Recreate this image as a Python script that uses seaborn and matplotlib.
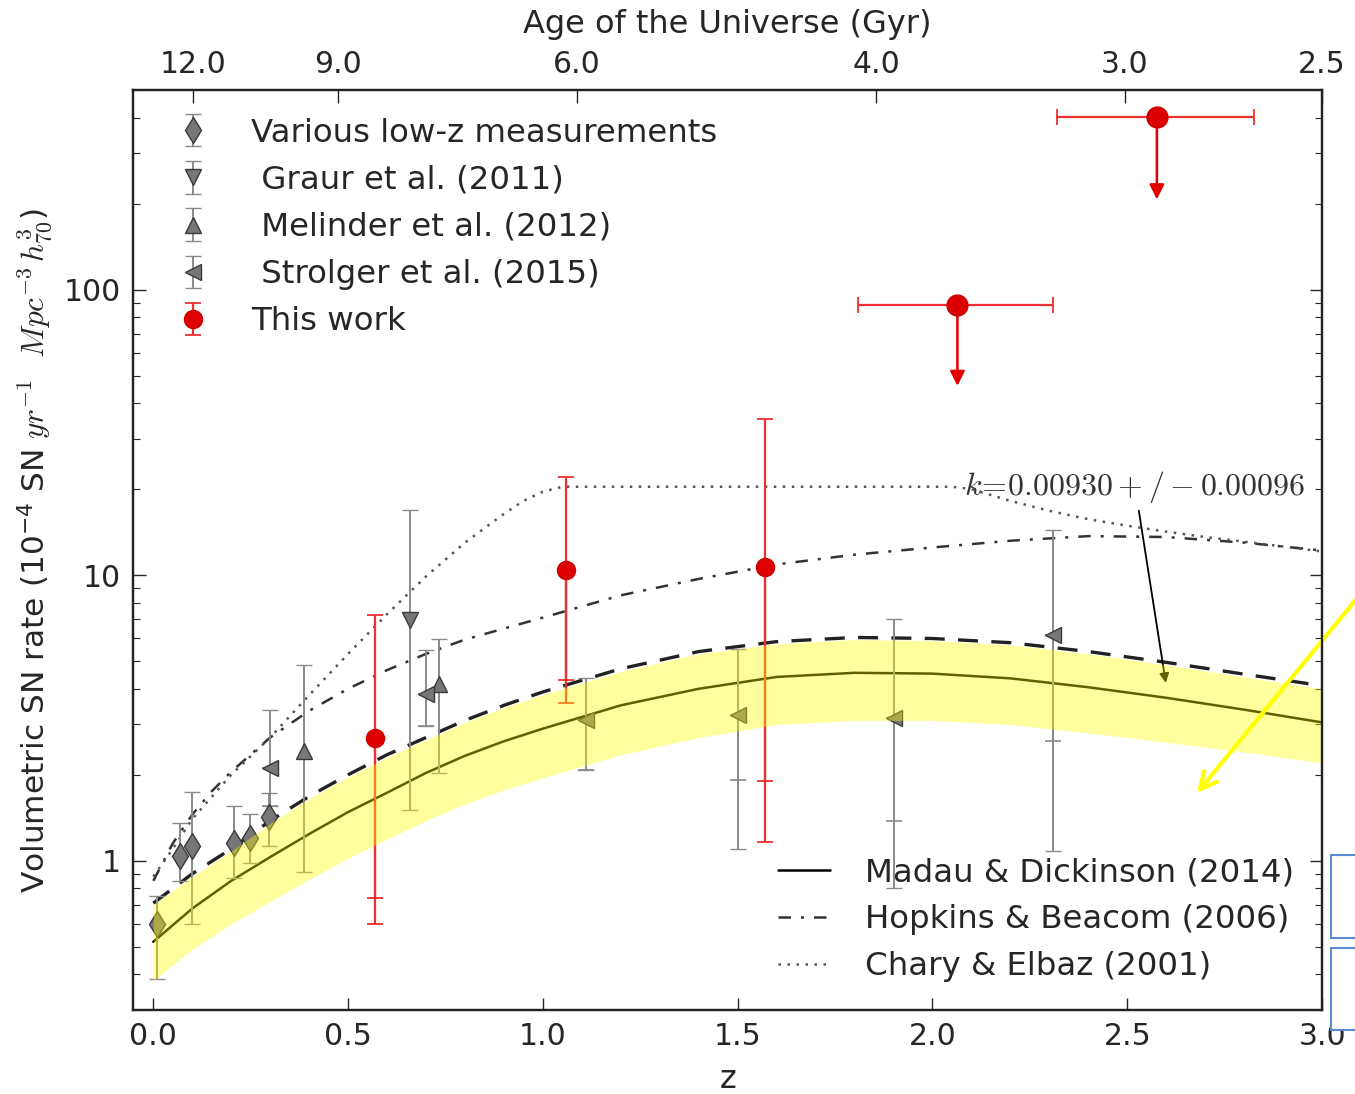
import numpy as np
import matplotlib
matplotlib.use("Agg")
import matplotlib.pyplot as plt
import seaborn as sns
from matplotlib.lines import Line2D
from matplotlib.patches import Rectangle

# model curves
z_model = [0.0, 0.1, 0.2, 0.3, 0.4, 0.5, 0.6, 0.7, 0.8, 0.9, 1.0, 1.2, 1.4, 1.6, 1.8, 2.0, 2.2, 2.4, 2.6, 2.8, 3.0]
md_rate = [0.52, 0.68, 0.85, 1.03, 1.24, 1.48, 1.73, 2.03, 2.33, 2.62, 2.9, 3.5, 4.0, 4.4, 4.55, 4.52, 4.35, 4.05, 3.72, 3.38, 3.05]
md_upper = [0.71, 0.9, 1.1, 1.38, 1.68, 2.0, 2.35, 2.7, 3.1, 3.5, 3.9, 4.7, 5.4, 5.85, 6.05, 6.0, 5.8, 5.4, 4.95, 4.5, 4.1]
band_lo = [0.38, 0.49, 0.6, 0.72, 0.86, 1.02, 1.19, 1.38, 1.58, 1.77, 1.95, 2.35, 2.7, 3.0, 3.1, 3.1, 3.0, 2.8, 2.6, 2.4, 2.2]
band_hi = [0.70, 0.88, 1.08, 1.35, 1.65, 1.96, 2.3, 2.65, 3.05, 3.44, 3.82, 4.6, 5.3, 5.75, 5.95, 5.9, 5.7, 5.3, 4.85, 4.4, 4.0]

z_hb = [0.0, 0.05, 0.1, 0.15, 0.2, 0.3, 0.4, 0.5, 0.6, 0.7, 0.8, 1.0, 1.2, 1.4, 1.6, 1.8, 2.0, 2.2, 2.4, 2.6, 2.8, 3.0]
hb_rate = [0.85, 1.15, 1.45, 1.75, 2.05, 2.7, 3.35, 4.0, 4.65, 5.3, 5.95, 7.1, 8.5, 9.7, 10.9, 11.8, 12.5, 13.2, 13.7, 13.6, 13.0, 12.2]

z_ce = [0.0, 0.05, 0.1, 0.2, 0.3, 0.4, 0.5, 0.6, 0.7, 0.8, 0.9, 0.95, 1.0, 1.05, 2.05, 2.1, 2.2, 2.3, 2.4, 2.5, 2.6, 2.7, 2.8, 2.9, 3.0]
ce_rate = [0.88, 1.1, 1.4, 2.0, 2.7, 3.8, 5.3, 7.3, 9.9, 13.0, 16.4, 18.2, 19.6, 20.4, 20.4, 20.0, 18.2, 16.8, 15.7, 14.9, 14.2, 13.6, 13.1, 12.6, 12.1]

# measurements
lowz_z = np.array([0.01, 0.069, 0.1, 0.208, 0.249, 0.298])
lowz_y = np.array([0.6, 1.04, 1.13, 1.15, 1.2, 1.42])
lowz_lo = np.array([0.385, 0.85, 0.6, 0.87, 0.98, 1.13])
lowz_hi = np.array([0.75, 1.36, 1.74, 1.56, 1.46, 1.72])

graur_z = np.array([0.66])
graur_y = np.array([6.95])
graur_lo = np.array([1.5])
graur_hi = np.array([16.9])

mel_z = np.array([0.388, 0.733])
mel_y = np.array([2.43, 4.17])
mel_lo = np.array([0.91, 2.02])
mel_hi = np.array([4.83, 5.98])

str_z = np.array([0.30, 0.70, 1.11, 1.50, 1.90, 2.31])
str_y = np.array([2.12, 3.85, 3.1, 3.25, 3.15, 6.16])
str_lo = np.array([1.55, 2.97, 2.07, 1.1, 0.80, 1.08])
str_hi = np.array([3.36, 5.45, 4.35, 5.5, 7.0, 14.4])
str_lo_stat = np.array([1.55, 2.97, 2.07, 1.92, 1.38, 2.63])

tw_z = np.array([0.57, 1.06, 1.57])
tw_y = np.array([2.7, 10.4, 10.7])
tw_lo = np.array([0.6, 3.58, 1.16])
tw_lo_stat = np.array([0.74, 4.28, 1.9])
tw_hi = np.array([7.24, 22.1, 35.3])

ul_z = np.array([2.064, 2.576])
ul_y = np.array([88.5, 401.0])
ul_zlo = np.array([1.81, 2.32])
ul_zhi = np.array([2.31, 2.825])
ul_end = np.array([46.0, 207.0])

age_z = [0.103, 0.473, 1.087, 1.855, 2.494, 3.0]
age_labels = ["12.0", "9.0", "6.0", "4.0", "3.0", "2.5"]

sns.set_style("ticks")
plt.rcParams["font.family"] = ["DejaVu Sans"]
plt.rcParams["mathtext.fontset"] = "cm"

fig, ax = plt.subplots(figsize=(13.55, 10.94), dpi=100)
fig.subplots_adjust(left=0.0982, right=0.9757, bottom=0.0768, top=0.9177)

# model lines
sns.lineplot(x=z_model, y=md_rate, ax=ax, color="black", lw=1.8, legend=False)
sns.lineplot(x=z_model, y=md_upper, ax=ax, color="#222222", lw=2.4, linestyle=(0, (6, 4)), legend=False)
sns.lineplot(x=z_hb, y=hb_rate, ax=ax, color="#333333", lw=1.8, linestyle=(0, (5, 4, 1.2, 4)), legend=False)
sns.lineplot(x=z_ce, y=ce_rate, ax=ax, color="#555555", lw=1.8, linestyle=(0, (1, 2.6)), legend=False)

gray_kw = dict(ls="none", ecolor="#8a8a8a", elinewidth=1.4, capsize=6, capthick=1.2,
               mec="#3a3a3a", mfc="#777777", mew=1.0, zorder=4)
h_low = ax.errorbar(lowz_z, lowz_y, yerr=[lowz_y - lowz_lo, lowz_hi - lowz_y], fmt="d", ms=13, **gray_kw)
h_gr = ax.errorbar(graur_z, graur_y, yerr=[graur_y - graur_lo, graur_hi - graur_y], fmt="v", ms=11, **gray_kw)
h_mel = ax.errorbar(mel_z, mel_y, yerr=[mel_y - mel_lo, mel_hi - mel_y], fmt="^", ms=11, **gray_kw)
h_str = ax.errorbar(str_z, str_y, yerr=[str_y - str_lo, str_hi - str_y], fmt="<", ms=11, **gray_kw)
ax.errorbar(str_z, str_y, yerr=[str_y - str_lo_stat, np.zeros(len(str_z))], fmt="none",
            ecolor="#8a8a8a", elinewidth=1.4, capsize=6, capthick=1.2, zorder=4)

red_kw = dict(ecolor="#ee3030", elinewidth=1.6, capsize=6, capthick=1.3, zorder=5)
h_tw = ax.errorbar(tw_z, tw_y, yerr=[tw_y - tw_lo, tw_hi - tw_y], fmt="o", ms=13,
                   mfc="#dd0000", mec="#cc0000", ls="none", **red_kw)
ax.errorbar(tw_z, tw_y, yerr=[tw_y - tw_lo_stat, np.zeros(len(tw_z))], fmt="none", **red_kw)

# upper limits
ax.errorbar(ul_z, ul_y, xerr=[ul_z - ul_zlo, ul_zhi - ul_z], fmt="o", ms=15,
            mfc="#dd0000", mec="#cc0000", ls="none", **red_kw)
for zz, yy, ye in zip(ul_z, ul_y, ul_end):
    ax.annotate("", xy=(zz, ye), xytext=(zz, yy),
                arrowprops=dict(arrowstyle="-|>", color="#e00000", lw=1.8, mutation_scale=22,
                                shrinkA=0, shrinkB=0), zorder=5)

# uncertainty band drawn on top
ax.fill_between(z_model, band_lo, band_hi, color="yellow", alpha=0.38, lw=0, zorder=10)

ax.set_yscale("log")
ax.set_xlim(-0.052, 3.0)
ax.set_ylim(0.3, 500)
ax.set_xticks([0.0, 0.5, 1.0, 1.5, 2.0, 2.5, 3.0])
ax.set_xticklabels(["0.0", "0.5", "1.0", "1.5", "2.0", "2.5", "3.0"])
ax.set_yticks([1, 10, 100])
ax.set_yticklabels(["1", "10", "100"])
ax.tick_params(axis="both", which="major", direction="in", length=9, width=1.0, labelsize=21.5, pad=9)
ax.tick_params(axis="y", which="minor", direction="in", length=5, width=0.8)
ax.tick_params(axis="y", which="both", right=True)
ax.tick_params(axis="x", top=False)
for sp in ax.spines.values():
    sp.set_linewidth(1.6)
    sp.set_color("#222222")

ax.set_xlabel("z", fontsize=23, labelpad=9)
ax.set_ylabel(r"Volumetric SN rate ($\mathregular{10^{-4}}$ SN $yr^{-1}$  $Mpc^{-3}\,h_{70}^{3}$)",
              fontsize=22.5, labelpad=6)

ax_top = ax.twiny()
ax_top.set_xlim(ax.get_xlim())
ax_top.set_xticks(age_z)
ax_top.set_xticklabels(age_labels)
ax_top.tick_params(axis="x", direction="in", length=9, width=1.0, labelsize=21.5, pad=8)
ax_top.set_xlabel("Age of the Universe (Gyr)", fontsize=23, labelpad=12)
for sp in ax_top.spines.values():
    sp.set_linewidth(1.6)
    sp.set_color("#222222")

ax.annotate(r"$k\!=\!0.00930+/-0.00096$", xy=(2.6, 4.1), xytext=(2.52, 20.4),
            ha="center", va="center", fontsize=23, color="#333333",
            arrowprops=dict(arrowstyle="-|>", color="black", lw=1.3, mutation_scale=14))

leg1 = ax.legend([h_low, h_gr, h_mel, h_str, h_tw],
                 ["Various low-z measurements", " Graur et al. (2011)", " Melinder et al. (2012)",
                  " Strolger et al. (2015)", "This work"],
                 loc="upper left", frameon=False, fontsize=23.3, numpoints=1,
                 handlelength=2.0, handletextpad=0.8, labelspacing=0.5, borderaxespad=0.45)
ax.add_artist(leg1)
line_handles = [Line2D([], [], color="black", lw=1.8),
                Line2D([], [], color="#333333", lw=1.8, linestyle=(0, (5, 4, 1.2, 4))),
                Line2D([], [], color="#555555", lw=1.8, linestyle=(0, (1, 2.6)))]
ax.legend(line_handles, ["Madau & Dickinson (2014)", "Hopkins & Beacom (2006)", "Chary & Elbaz (2001)"],
          loc="lower right", frameon=False, fontsize=23.3, handlelength=1.6, handletextpad=1.1,
          labelspacing=0.5, borderaxespad=0.45)

# overlay arrow and boxes sitting on top of the slide
ax.annotate("", xy=(1197, 301), xycoords="figure pixels", xytext=(1372, 514), textcoords="figure pixels",
            arrowprops=dict(arrowstyle="->", color="#ffff00", lw=3, mutation_scale=30,
                            shrinkA=0, shrinkB=0), annotation_clip=False, zorder=20)
fig.add_artist(Rectangle((1331 / 1355, (1094 - 938) / 1094), 40 / 1355, 83 / 1094,
                         transform=fig.transFigure, fc="white", ec="#5b8bd0", lw=1.5, zorder=20))
fig.add_artist(Rectangle((1331 / 1355, (1094 - 1030) / 1094), 40 / 1355, 82 / 1094,
                         transform=fig.transFigure, fc="white", ec="#5b8bd0", lw=1.5, zorder=20))

fig.savefig("out.png", dpi=100)
